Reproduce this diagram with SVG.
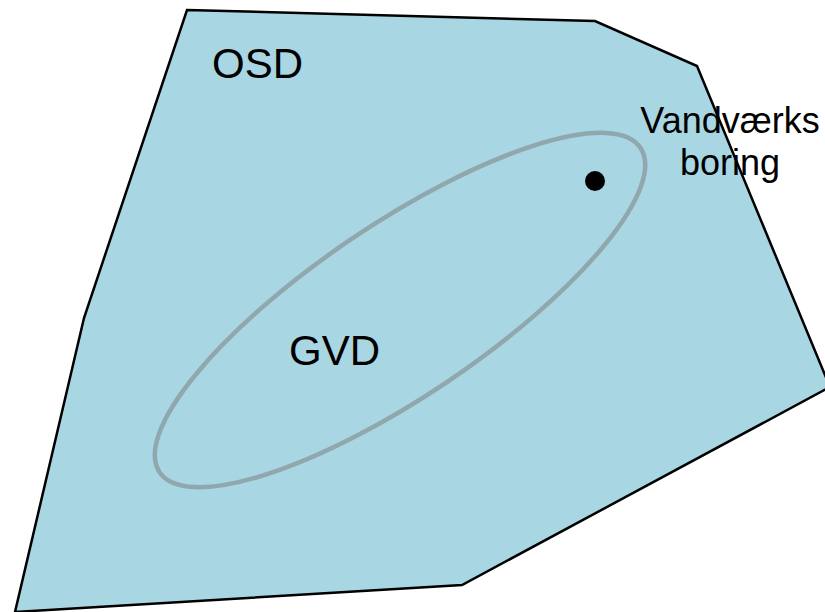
<svg xmlns="http://www.w3.org/2000/svg" width="825" height="612" viewBox="0 0 825 612">
  <style>
    .lbl { font-family: "Liberation Sans", Arial, sans-serif; fill: #000; }
    .zone { fill: #a8d6e2; stroke: #000; stroke-width: 2.5; stroke-linejoin: miter; }
    .inner { fill: none; stroke: #8fa7ad; stroke-width: 4.5; }
  </style>
  <rect width="825" height="612" fill="#fff"/>
  <!-- outer protection zone -->
  <g id="osd">
    <polygon class="zone" points="187,10 595,21 697,66 830,387 462,585 15,612 84,318"/>
    <text class="lbl" x="212" y="78" font-size="42">OSD</text>
  </g>
  <!-- inner zone around the well -->
  <g id="gvd">
    <ellipse class="inner" cx="400" cy="310" rx="290" ry="86" transform="rotate(-34 400 310)"/>
    <text class="lbl" x="289" y="365" font-size="42">GVD</text>
  </g>
  <!-- the well -->
  <g id="boring">
    <circle cx="595" cy="181" r="10" fill="#000"/>
    <text class="lbl" x="730" y="133" font-size="36" text-anchor="middle">Vandværks</text>
    <text class="lbl" x="730" y="175" font-size="36" text-anchor="middle">boring</text>
  </g>
  <g id="connectors"/>
</svg>
